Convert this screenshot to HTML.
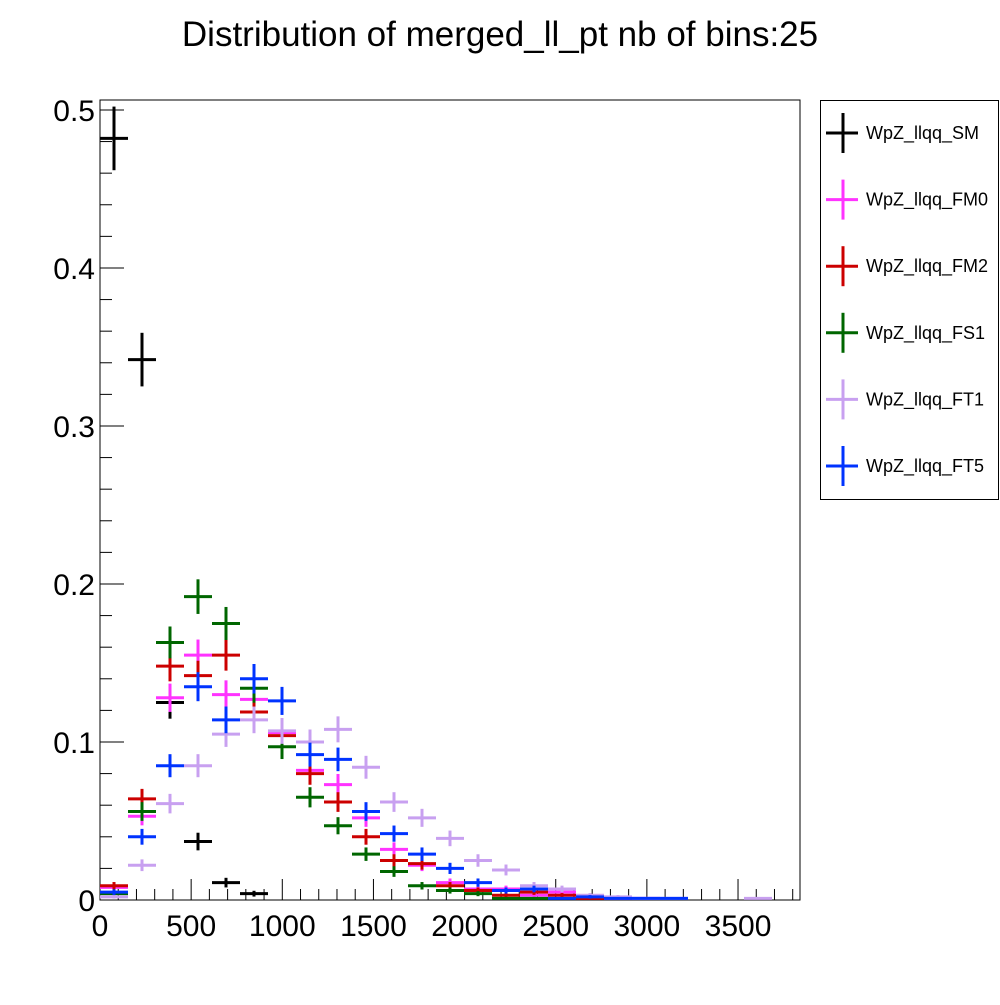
<!DOCTYPE html>
<html><head><meta charset="utf-8"><style>
body{margin:0;background:#fff}
svg text{font-family:"Liberation Sans",sans-serif}
</style></head><body>
<svg id="chart" width="1000" height="1000" viewBox="0 0 1000 1000">
<rect width="1000" height="1000" fill="#fff"/>
<text x="500" y="46" font-size="35" text-anchor="middle">Distribution of merged_ll_pt nb of bins:25</text>
<rect x="100" y="100" width="700" height="800" fill="none" stroke="#000" stroke-width="1"/>
<g id="axes"></g>
<g id="series"></g>
<g id="legend"></g>
</svg>
<script>
const seriesNames = ["WpZ_llqq_SM","WpZ_llqq_FM0","WpZ_llqq_FM2","WpZ_llqq_FS1","WpZ_llqq_FT1","WpZ_llqq_FT5"];
const seriesColors = ["#000000","#ff33ff","#cc0000","#006600","#c8a0f0","#0033ff"];
const xTicks = [0,500,1000,1500,2000,2500,3000,3500];
const yTicks = [0,0.1,0.2,0.3,0.4,0.5];
const yTickLabels = ["0","0.1","0.2","0.3","0.4","0.5"];
const sm  = [0.482,0.342,0.125,0.037,0.011,0.004,0,0,0,0,0,0,0,0,0,0,0,0,0,0,0,0,0,0,0];
const fm0 = [0.008,0.053,0.128,0.155,0.130,0.127,0.106,0.082,0.073,0.052,0.032,0.022,0.011,0.007,0.007,0.003,0.005,0.002,0.001,0.001,0,0,0,0,0];
const fm2 = [0.009,0.064,0.148,0.142,0.155,0.119,0.104,0.080,0.062,0.040,0.025,0.023,0.009,0.006,0.003,0.005,0.003,0.001,0,0,0,0,0,0,0];
const fs1 = [0.004,0.056,0.163,0.192,0.175,0.134,0.097,0.065,0.047,0.029,0.018,0.009,0.006,0.004,0.001,0.001,0,0,0,0,0,0,0,0,0];
const ft1 = [0.002,0.022,0.061,0.085,0.105,0.114,0.107,0.100,0.108,0.084,0.062,0.052,0.039,0.025,0.019,0.009,0.007,0.003,0.002,0.001,0.001,0,0,0.001,0];
const ft5 = [0.005,0.040,0.085,0.135,0.114,0.140,0.126,0.092,0.089,0.056,0.042,0.029,0.020,0.011,0.006,0.007,0.001,0.002,0.001,0.001,0.001,0,0,0,0];
const allSeries = [sm,fm0,fm2,fs1,ft1,ft5];
const errScale = [0.029,0.025,0.025,0.025,0.025,0.025];
const xMax = 3840, yMax = 0.5063, nBins = 25;
const X0=100,X1=800,Y0=900,Y1=100;
const NS="http://www.w3.org/2000/svg";
function xs(v){return X0+(v/xMax)*(X1-X0);}
function ys(v){return Y0-(v/yMax)*(Y0-Y1);}
function mk(tag,attrs,parent){const e=document.createElementNS(NS,tag);for(const k in attrs)e.setAttribute(k,attrs[k]);parent.appendChild(e);return e;}
const axes=document.getElementById('axes');
for(let v=0;v<=xMax;v+=100){
  const major=v%500===0;const len=major?21:11;
  const t=mk('line',{x1:xs(v),x2:xs(v),y1:Y0,y2:Y0-len,stroke:'#000','stroke-width':1},axes);
  
  
}
xTicks.forEach(v=>{
  const t=mk('text',{x:xs(v),y:936,'font-size':30,'text-anchor':'middle'},axes);
  t.textContent=String(v);
  
  
});
for(let i=0;i<=25;i++){
  const v=i*0.02;if(v>yMax)break;
  const major=i%5===0;const len=major?24:12;
  const t=mk('line',{x1:X0,x2:X0+len,y1:ys(v),y2:ys(v),stroke:'#000','stroke-width':1},axes);
  
  
}
yTicks.forEach((v,i)=>{
  const t=mk('text',{x:95,y:ys(v)+11,'font-size':30,'text-anchor':'end'},axes);
  t.textContent=yTickLabels[i];
  
  
});
const sg=document.getElementById('series');
const bw=xMax/nBins;
allSeries.forEach((vals,si)=>{
  const g=mk('g',{stroke:seriesColors[si],'stroke-width':3},sg);
  
  
  vals.forEach((v,i)=>{
    if(v<=0) return;
    const c=xs((i+0.5)*bw), y=ys(v);
    const e=errScale[si]*Math.sqrt(v);
    const h=mk('line',{x1:xs(i*bw),x2:xs((i+1)*bw),y1:y,y2:y},g);
    
    
    if(v>0.001){
      const vl=mk('line',{x1:c,x2:c,y1:Math.min(Y0,ys(v-e)),y2:ys(v+e)},g);
      
      
    }
  });
});
const lg=document.getElementById('legend');
const box=mk('rect',{x:820.5,y:100.5,width:178,height:399,fill:'#fff',stroke:'#000','stroke-width':1},lg);


seriesNames.forEach((n,i)=>{
  const cy=133+i*66.6;
  const g=mk('g',{},lg);
  
  
  mk('line',{x1:826,x2:858,y1:cy,y2:cy,stroke:seriesColors[i],'stroke-width':3},g);
  mk('line',{x1:843,x2:843,y1:cy-20,y2:cy+20,stroke:seriesColors[i],'stroke-width':3},g);
  const t=mk('text',{x:866,y:cy+6,'font-size':18},g);
  t.textContent=n;
});
</script>
</body></html>
